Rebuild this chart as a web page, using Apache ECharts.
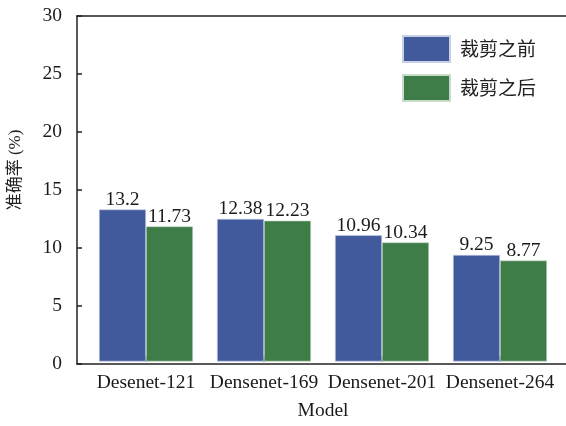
<!DOCTYPE html>
<html>
<head>
<meta charset="utf-8">
<script src="https://cdn.jsdelivr.net/npm/echarts@6/dist/echarts.min.js"></script>
<style>
  html, body { margin: 0; padding: 0; background: #fff; }
  #chart { width: 566px; height: 426px; }
</style>
</head>
<body>
<div id="chart"></div>
<script>
let models = ["Desenet-121", "Densenet-169", "Densenet-201", "Densenet-264"];
let before = [13.2, 12.38, 10.96, 9.25];
let after = [11.73, 12.23, 10.34, 8.77];
let seriesNames = ["裁剪之前", "裁剪之后"];

let font = "'Liberation Serif', 'Noto Sans CJK SC', serif";
let txt = { fontFamily: font, fontSize: 19.5, color: "#1a1a1a" };

let chart = echarts.init(document.getElementById("chart"));

chart.setOption({
  animation: false,
  textStyle: { fontFamily: font },
  // grid 0 draws the frame and y axis, grid 1 holds the bars
  grid: [
    { left: 77, right: 0, top: 16, bottom: 62 },
    { left: 87, right: 7, top: 16, bottom: 62 }
  ],
  legend: {
    orient: "vertical",
    left: 402,
    top: 35,
    padding: 0,
    itemWidth: 47,
    itemHeight: 26,
    itemGap: 11,
    icon: "rect",
    textStyle: { fontFamily: "'Noto Sans CJK SC', serif", fontSize: 19, color: "#222", padding: [0, 0, 0, 5] },
    data: seriesNames
  },
  xAxis: [
    {
      gridIndex: 0, type: "value", position: "bottom", min: 0, max: 1,
      axisLine: { show: true, lineStyle: { color: "#222", width: 1.5 } },
      axisTick: { show: false }, axisLabel: { show: false }, splitLine: { show: false }
    },
    {
      gridIndex: 0, type: "value", position: "top", min: 0, max: 1,
      axisLine: { show: true, lineStyle: { color: "#222", width: 1.5 } },
      axisTick: { show: false }, axisLabel: { show: false }, splitLine: { show: false }
    },
    {
      gridIndex: 1, type: "category", data: models,
      axisLine: { show: false },
      axisTick: { show: true, inside: true, length: 5, alignWithLabel: true, lineStyle: { color: "#222", width: 1.5 } },
      axisLabel: Object.assign({ margin: 12, interval: 0 }, txt),
      name: "Model",
      nameLocation: "middle",
      nameGap: 40,
      nameTextStyle: txt
    }
  ],
  yAxis: [
    {
      gridIndex: 0, type: "value", min: 0, max: 30, interval: 5,
      axisLine: { show: true, lineStyle: { color: "#222", width: 1.5 } },
      axisTick: { show: true, inside: true, length: 5, lineStyle: { color: "#222", width: 1.5 } },
      axisLabel: Object.assign({ margin: 15 }, txt),
      splitLine: { show: false }
    },
    {
      gridIndex: 1, type: "value", min: 0, max: 30, interval: 5,
      show: false
    }
  ],
  graphic: [
    {
      type: "text",
      x: 16, y: 170,
      rotation: Math.PI / 2,
      style: {
        text: "准确率 (%)",
        font: "17px 'Liberation Serif', 'Noto Sans CJK SC', serif",
        fill: "#222",
        align: "center",
        verticalAlign: "middle"
      }
    }
  ],
  series: [
    {
      name: seriesNames[0], type: "bar", xAxisIndex: 2, yAxisIndex: 1,
      data: before, barWidth: 47, barGap: "0%",
      itemStyle: { color: "#415A9C", borderColor: "#c9d0e6", borderWidth: 0.6 },
      label: Object.assign({ show: true, position: "top", distance: 0 }, txt)
    },
    {
      name: seriesNames[1], type: "bar", xAxisIndex: 2, yAxisIndex: 1,
      data: after, barWidth: 47, barGap: "0%",
      itemStyle: { color: "#3E7C48", borderColor: "#c9dccb", borderWidth: 0.6 },
      label: Object.assign({ show: true, position: "top", distance: 0 }, txt)
    }
  ]
});
</script>
</body>
</html>
